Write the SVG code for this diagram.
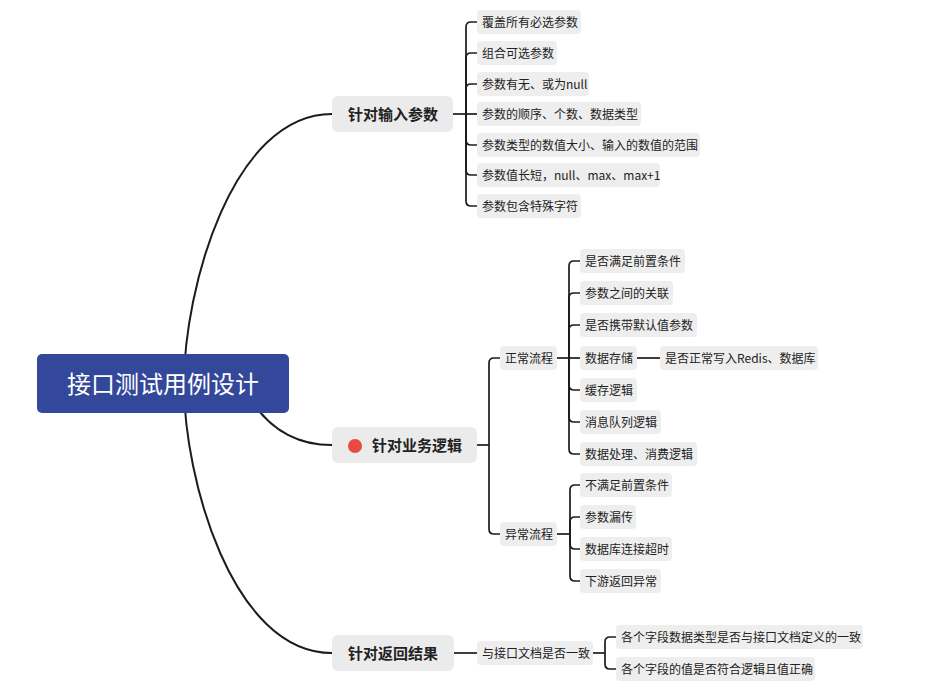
<svg xmlns="http://www.w3.org/2000/svg" width="930" height="684" viewBox="0 0 930 684">
<style>
.cv{fill:none;stroke:#1c1c1c;stroke-width:2;stroke-linecap:round}
.br{fill:none;stroke:#1c1c1c;stroke-width:1.7;stroke-linejoin:round}
.b1{fill:#EBEBEB}
.b2{fill:#EEEEEE}
.t{font-family:"Noto Sans CJK SC","Noto Sans",sans-serif;fill:#222}
.t1{font-size:15px;font-weight:bold}
.t2{font-size:12px}
.tr{font-family:"Noto Sans CJK SC","Noto Sans",sans-serif;font-size:24px;fill:#fff;text-anchor:middle}
</style>
<rect width="930" height="684" fill="#fff"/>
<g id="connectors">
<path class="cv" d="M184,384 C184,289 232,114 332,114"/>
<path class="cv" d="M184,384 C184,478 232,653 332,653"/>
<path class="cv" d="M245,390 Q275,445 332,445"/>
<path class="br" d="M453,114 H466"/>
<path class="br" d="M466,114 V27 Q466,22 471,22 H477"/>
<path class="br" d="M466,114 V58 Q466,53 471,53 H477"/>
<path class="br" d="M466,114 V89 Q466,84 471,84 H477"/>
<path class="br" d="M466,114 H477"/>
<path class="br" d="M466,114 V140 Q466,145 471,145 H477"/>
<path class="br" d="M466,114 V170 Q466,175 471,175 H477"/>
<path class="br" d="M466,114 V201 Q466,206 471,206 H477"/>
<path class="br" d="M477,445 H489"/>
<path class="br" d="M489,445 V363 Q489,358 494,358 H500"/>
<path class="br" d="M489,445 V529 Q489,534 494,534 H500"/>
<path class="br" d="M557,358 H569"/>
<path class="br" d="M569,358 V266 Q569,261 574,261 H580"/>
<path class="br" d="M569,358 V298 Q569,293 574,293 H580"/>
<path class="br" d="M569,358 V330 Q569,325 574,325 H580"/>
<path class="br" d="M569,358 H580"/>
<path class="br" d="M569,358 V385 Q569,390 574,390 H580"/>
<path class="br" d="M569,358 V417 Q569,422 574,422 H580"/>
<path class="br" d="M569,358 V449 Q569,454 574,454 H580"/>
<path class="br" d="M637,358 H660"/>
<path class="br" d="M557,534 H570"/>
<path class="br" d="M570,534 V490 Q570,485 575,485 H580"/>
<path class="br" d="M570,534 V522 Q570,517 575,517 H580"/>
<path class="br" d="M570,534 V544 Q570,549 575,549 H580"/>
<path class="br" d="M570,534 V576 Q570,581 575,581 H580"/>
<path class="br" d="M454,653 H477"/>
<path class="br" d="M593,653 H605"/>
<path class="br" d="M605,653 V642 Q605,637 610,637 H616"/>
<path class="br" d="M605,653 V664 Q605,669 610,669 H616"/>
</g>
<g id="root"><rect x="37" y="354" width="252" height="59" rx="5" fill="#33489A"/><text class="tr" x="163" y="393">接口测试用例设计</text></g>
<g id="n-input"><rect class="b1" x="332" y="96" width="121" height="36" rx="6"/><text class="t t1" x="348" y="119.5">针对输入参数</text></g>
<g id="n-biz"><rect class="b1" x="332" y="427" width="145" height="36" rx="6"/><circle cx="355" cy="446" r="7" fill="#E84A3F"/><text class="t t1" x="372" y="450.5">针对业务逻辑</text></g>
<g id="n-ret"><rect class="b1" x="332" y="635" width="122" height="36" rx="6"/><text class="t t1" x="348" y="658.5">针对返回结果</text></g>
<g id="i1"><rect class="b2" x="477" y="10" width="104" height="24" rx="4"/><text class="t t2" x="482" y="26.5">覆盖所有必选参数</text></g>
<g id="i2"><rect class="b2" x="477" y="41" width="80" height="24" rx="4"/><text class="t t2" x="482" y="57.5">组合可选参数</text></g>
<g id="i3"><rect class="b2" x="477" y="72" width="112" height="24" rx="4"/><text class="t t2" x="482" y="88.5">参数有无、或为null</text></g>
<g id="i4"><rect class="b2" x="477" y="102" width="164" height="24" rx="4"/><text class="t t2" x="482" y="118.5">参数的顺序、个数、数据类型</text></g>
<g id="i5"><rect class="b2" x="477" y="133" width="223" height="24" rx="4"/><text class="t t2" x="482" y="149.5">参数类型的数值大小、输入的数值的范围</text></g>
<g id="i6"><rect class="b2" x="477" y="163" width="183" height="24" rx="4"/><text class="t t2" x="482" y="179.5">参数值长短，null、max、max+1</text></g>
<g id="i7"><rect class="b2" x="477" y="194" width="104" height="24" rx="4"/><text class="t t2" x="482" y="210.5">参数包含特殊字符</text></g>
<g id="normal"><rect class="b2" x="500" y="346" width="57" height="24" rx="4"/><text class="t t2" x="505" y="362.5">正常流程</text></g>
<g id="abnormal"><rect class="b2" x="500" y="522" width="57" height="24" rx="4"/><text class="t t2" x="505" y="538.5">异常流程</text></g>
<g id="a1"><rect class="b2" x="580" y="249" width="105" height="24" rx="4"/><text class="t t2" x="585" y="265.5">是否满足前置条件</text></g>
<g id="a2"><rect class="b2" x="580" y="281" width="93" height="24" rx="4"/><text class="t t2" x="585" y="297.5">参数之间的关联</text></g>
<g id="a3"><rect class="b2" x="580" y="313" width="117" height="24" rx="4"/><text class="t t2" x="585" y="329.5">是否携带默认值参数</text></g>
<g id="a4"><rect class="b2" x="580" y="346" width="57" height="24" rx="4"/><text class="t t2" x="585" y="362.5">数据存储</text></g>
<g id="a4a"><rect class="b2" x="660" y="346" width="158" height="24" rx="4"/><text class="t t2" x="665" y="362.5">是否正常写入Redis、数据库</text></g>
<g id="a5"><rect class="b2" x="580" y="378" width="57" height="24" rx="4"/><text class="t t2" x="585" y="394.5">缓存逻辑</text></g>
<g id="a6"><rect class="b2" x="580" y="410" width="81" height="24" rx="4"/><text class="t t2" x="585" y="426.5">消息队列逻辑</text></g>
<g id="a7"><rect class="b2" x="580" y="442" width="117" height="24" rx="4"/><text class="t t2" x="585" y="458.5">数据处理、消费逻辑</text></g>
<g id="e1"><rect class="b2" x="580" y="473" width="92" height="24" rx="4"/><text class="t t2" x="585" y="489.5">不满足前置条件</text></g>
<g id="e2"><rect class="b2" x="580" y="505" width="56" height="24" rx="4"/><text class="t t2" x="585" y="521.5">参数漏传</text></g>
<g id="e3"><rect class="b2" x="580" y="537" width="92" height="24" rx="4"/><text class="t t2" x="585" y="553.5">数据库连接超时</text></g>
<g id="e4"><rect class="b2" x="580" y="569" width="81" height="24" rx="4"/><text class="t t2" x="585" y="585.5">下游返回异常</text></g>
<g id="r1"><rect class="b2" x="477" y="641" width="116" height="24" rx="4"/><text class="t t2" x="482" y="657.5">与接口文档是否一致</text></g>
<g id="r1a"><rect class="b2" x="616" y="625" width="247" height="24" rx="4"/><text class="t t2" x="621" y="641.5">各个字段数据类型是否与接口文档定义的一致</text></g>
<g id="r1b"><rect class="b2" x="616" y="657" width="199" height="24" rx="4"/><text class="t t2" x="621" y="673.5">各个字段的值是否符合逻辑且值正确</text></g>
</svg>
